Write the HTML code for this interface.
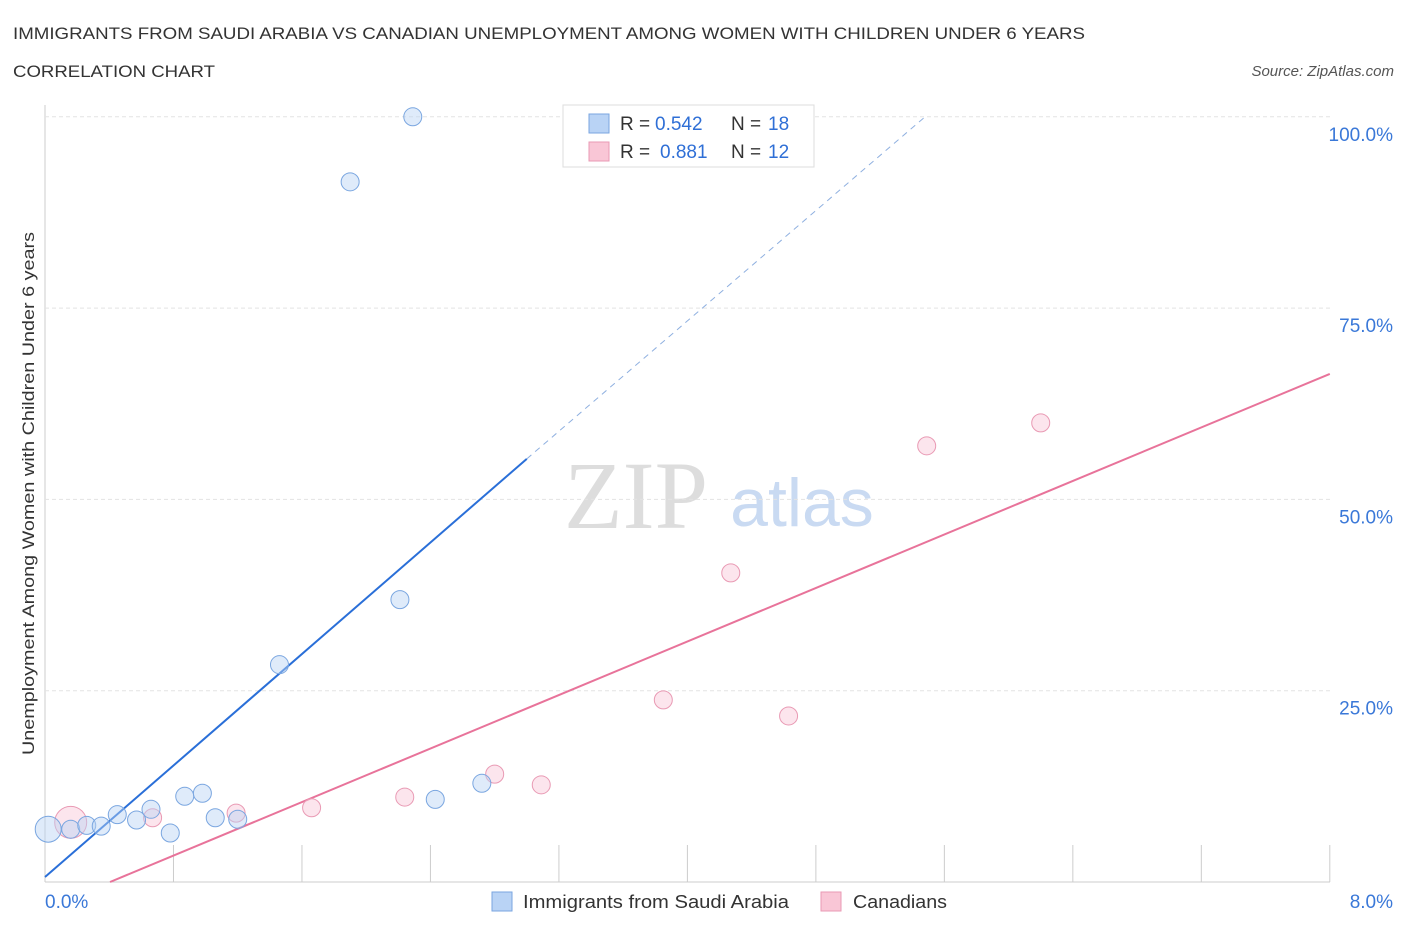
<!DOCTYPE html>
<html><head><meta charset="utf-8"><style>
body{margin:0;background:#fff;font-family:"Liberation Sans",sans-serif;}
svg{display:block}
</style></head><body>
<svg id="chart" width="1406" height="930">
<text x="13" y="39" font-size="17" fill="#333" textLength="1072" lengthAdjust="spacingAndGlyphs">IMMIGRANTS FROM SAUDI ARABIA VS CANADIAN UNEMPLOYMENT AMONG WOMEN WITH CHILDREN UNDER 6 YEARS</text>
<text x="13" y="77" font-size="17" fill="#333" textLength="202" lengthAdjust="spacingAndGlyphs">CORRELATION CHART</text>
<text x="1394" y="76" font-size="15" fill="#555" font-style="italic" text-anchor="end">Source: ZipAtlas.com</text>
<text x="636" y="528" font-size="96" fill="#ddd" font-family="Liberation Serif,serif" text-anchor="middle">ZIP</text>
<text x="802" y="526" font-size="68" fill="#c9daf2" text-anchor="middle">atlas</text>
<text x="0" y="0" transform="translate(34,755) rotate(-90)" font-size="17" fill="#333" textLength="523" lengthAdjust="spacingAndGlyphs">Unemployment Among Women with Children Under 6 years</text>
<g id="grid"></g><g id="lines"></g><g id="pts"></g>
<g>
<rect x="563" y="105" width="251" height="62" fill="#fff" stroke="#ddd"/>
<rect x="589" y="114" width="20" height="19" fill="#b9d3f5" stroke="#7aa6e0"/>
<rect x="589" y="142" width="20" height="19" fill="#f9c6d6" stroke="#e99ab4"/>
<text x="620" y="130" font-size="19" fill="#333">R =</text>
<text x="655" y="130" font-size="19" fill="#2f6fd6">0.542</text>
<text x="731" y="130" font-size="19" fill="#333">N =</text>
<text x="768" y="130" font-size="19" fill="#2f6fd6">18</text>
<text x="620" y="158" font-size="19" fill="#333">R =</text>
<text x="660" y="158" font-size="19" fill="#2f6fd6">0.881</text>
<text x="731" y="158" font-size="19" fill="#333">N =</text>
<text x="768" y="158" font-size="19" fill="#2f6fd6">12</text>
</g>
<g>
<rect x="492" y="892" width="20" height="19" fill="#b9d3f5" stroke="#7aa6e0"/>
<text x="523" y="908" font-size="18" fill="#333" textLength="266" lengthAdjust="spacingAndGlyphs">Immigrants from Saudi Arabia</text>
<rect x="821" y="892" width="20" height="19" fill="#f9c6d6" stroke="#e99ab4"/>
<text x="853" y="908" font-size="18" fill="#333" textLength="94" lengthAdjust="spacingAndGlyphs">Canadians</text>
</g>
</svg>
<script>
const blueX=[0.02,0.16,0.26,0.35,0.45,0.57,0.66,0.78,0.87,0.98,1.06,1.20,1.46,1.90,2.21,2.29,2.43,2.72];
const blueY=[6.9,6.9,7.4,7.3,8.8,8.1,9.5,6.4,11.2,11.6,8.4,8.2,28.4,91.5,36.9,100,10.8,12.9];
const blueR=[13,9,9,9,9,9,9,9,9,9,9,9,9,9,9,9,9,9];
const pinkX=[0.16,0.67,1.19,1.66,2.24,2.80,3.09,3.85,4.27,4.63,5.49,6.20];
const pinkY=[7.8,8.4,9.0,9.7,11.1,14.1,12.7,23.8,40.4,21.7,57.0,60.0];
const pinkR=[16,9,9,9,9,9,9,9,9,9,9,9];
const yTicks=[25,50,75,100];
const yTickLabels=["25.0%","50.0%","75.0%","100.0%"];
const xTicks=[0,0.8,1.6,2.4,3.2,4.0,4.8,5.6,6.4,7.2,8.0];
const blueLine=[0,0.65,3.0,55.3,5.48,100];
const pinkLine=[0.405,0,8,66.4];
const NS="http://www.w3.org/2000/svg";
const sx=v=>45+v*160.6, sy=v=>882-v*7.652;
function mk(p,t,a){const e=document.createElementNS(NS,t);for(const k in a)e.setAttribute(k,a[k]);document.getElementById(p).appendChild(e);return e;}
mk('grid','line',{x1:45,y1:105,x2:45,y2:882,stroke:'#ccc'});
mk('grid','line',{x1:45,y1:882,x2:1330,y2:882,stroke:'#ccc'});
yTicks.forEach((t,i)=>{
 const l=mk('grid','line',{x1:45,y1:sy(t),x2:1330,y2:sy(t),stroke:'#e3e3e3','stroke-dasharray':'4,3'});
 
 const tx=mk('grid','text',{x:1393,y:sy(t)+24,'font-size':19,fill:'#3a78d8','text-anchor':'end'});
 tx.textContent=yTickLabels[i];
 
});
xTicks.forEach(t=>{const l=mk('grid','line',{x1:sx(t),y1:845,x2:sx(t),y2:882,stroke:'#ccc'});
 });
let t0=mk('grid','text',{x:45,y:908,'font-size':19,fill:'#3a78d8'});t0.textContent='0.0%';

let t1=mk('grid','text',{x:1393,y:908,'font-size':19,fill:'#3a78d8','text-anchor':'end'});t1.textContent='8.0%';

let bl=mk('lines','line',{x1:sx(blueLine[0]),y1:sy(blueLine[1]),x2:sx(blueLine[2]),y2:sy(blueLine[3]),stroke:'#2a6fd8','stroke-width':2});

let bd=mk('lines','line',{x1:sx(blueLine[2]),y1:sy(blueLine[3]),x2:sx(blueLine[4]),y2:sy(blueLine[5]),stroke:'#8fb0e0','stroke-width':1,'stroke-dasharray':'6,5'});

let pl=mk('lines','line',{x1:sx(pinkLine[0]),y1:sy(pinkLine[1]),x2:sx(pinkLine[2]),y2:sy(pinkLine[3]),stroke:'#e8739a','stroke-width':2});

pinkX.forEach((x,i)=>{const c=mk('pts','circle',{cx:sx(x),cy:sy(pinkY[i]),r:pinkR[i],fill:'#f9c6d6','fill-opacity':0.45,stroke:'#e99ab4'});
 });
blueX.forEach((x,i)=>{const c=mk('pts','circle',{cx:sx(x),cy:sy(blueY[i]),r:blueR[i],fill:'#b9d3f5','fill-opacity':0.45,stroke:'#7aa6e0'});
 });
</script>
</body></html>
